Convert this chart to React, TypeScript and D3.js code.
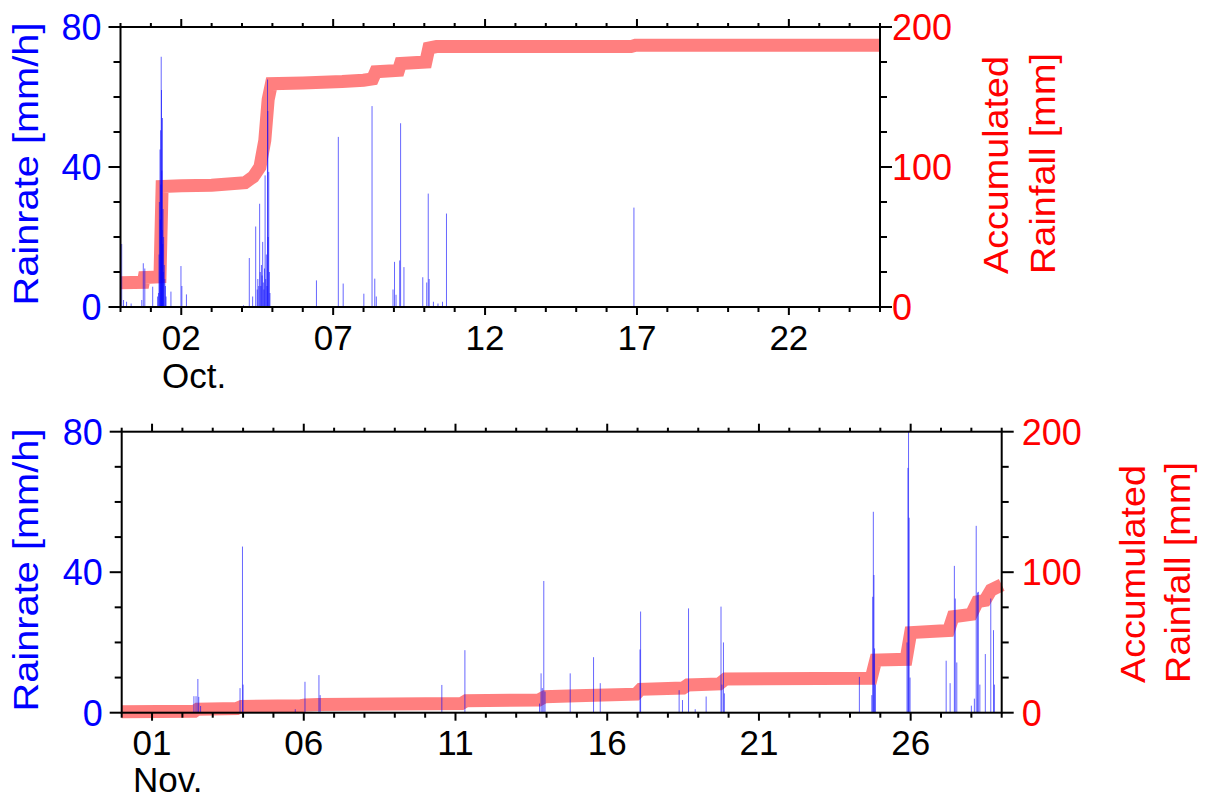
import React from 'react';
import * as d3 from 'd3';

// ---------- October panel data ----------
const octRainDay = [0.04, 0.1, 0.2, 0.35, 0.7, 0.75, 0.8, 1.06, 1.22, 1.25, 1.27, 1.28, 1.3, 1.31, 1.32, 1.33, 1.34, 1.35, 1.36, 1.37, 1.38, 1.39, 1.4, 1.41, 1.42, 1.44, 1.46, 1.48, 1.5, 1.66, 1.99, 2.02, 2.17, 4.05, 4.24, 4.35, 4.45, 4.5, 4.52, 4.55, 4.58, 4.6, 4.62, 4.64, 4.66, 4.68, 4.7, 4.72, 4.74, 4.76, 4.78, 4.8, 4.82, 4.84, 4.85, 4.86, 4.88, 4.9, 4.92, 6.45, 7.17, 7.33, 8.01, 8.28, 8.37, 8.42, 8.97, 9.02, 9.07, 9.19, 9.22, 9.33, 9.95, 10.08, 10.13, 10.16, 10.3, 10.45, 10.6, 10.73, 16.9];
const octRainRate = [18, 2, 1.5, 1, 2, 12.5, 11, 5.8, 3, 4, 15, 30, 45, 25, 50.5, 35, 71.5, 62, 39, 22, 54, 18, 28, 10, 20, 12, 8, 6, 3, 4.4, 11.7, 6, 3.6, 0.5, 14, 3, 23, 5, 8, 6, 29.5, 10, 6, 12, 9, 18.6, 7, 5, 11, 37.6, 8, 15, 6, 65, 56, 20, 38.6, 10, 4, 7.6, 48.6, 6.7, 3.8, 57.4, 8.1, 3, 5, 12.9, 3.5, 13.3, 52.5, 11.4, 8.5, 7, 32.4, 8, 1.5, 1, 1.5, 26.7, 28.4];
const octAccDay = [0, 0.75, 0.78, 1.3, 1.33, 1.37, 2, 3, 4.1, 4.37, 4.59, 4.75, 4.86, 4.97, 6, 7.3, 8, 8.3, 8.4, 9.15, 9.22, 10.05, 10.15, 10.4, 16.8, 16.95, 25];
const octAccMm = [17.4, 17.6, 21, 21.5, 50, 86, 86.6, 87, 88.8, 93, 100, 119, 148, 159.5, 160, 161, 162, 163, 168, 169, 174, 175, 185, 186, 186, 187, 187];
const octTickDays = [2, 7, 12, 17, 22];
const octTickLabels = ['02', '07', '12', '17', '22'];

// ---------- November panel data ----------
const novRainDay = [2.38, 2.45, 2.51, 2.54, 2.6, 3.9, 3.98, 4.0, 5.72, 6.04, 6.5, 6.54, 10.55, 11.31, 13.77, 13.82, 13.86, 13.91, 13.95, 14.78, 15.55, 15.77, 17.08, 17.1, 18.37, 18.48, 18.68, 18.9, 19.26, 19.75, 19.78, 19.83, 19.86, 24.31, 24.72, 24.75, 24.77, 24.79, 24.81, 24.84, 25.88, 25.91, 25.93, 25.95, 25.98, 27.17, 27.3, 27.44, 27.47, 27.52, 28.0, 28.1, 28.16, 28.2, 28.23, 28.28, 28.46, 28.64, 28.73, 28.76];
const novRainRate = [4.7, 4.7, 9.6, 4.5, 1.9, 7, 47.3, 8, 1, 8.8, 10.7, 5, 7.9, 17.8, 2.6, 11.2, 7, 37.5, 6, 11.2, 15.8, 8.4, 18, 28.8, 6.4, 3.6, 29.7, 1, 4.6, 30.2, 8, 20, 5.5, 10.2, 5, 33, 57.2, 39.2, 18.3, 8, 20, 69.7, 80, 55.5, 10, 14.8, 8.4, 41.8, 32.5, 14.3, 2, 4, 53.2, 34.2, 34.4, 8, 16.7, 32.5, 23.5, 8];
const novAccDay = [0, 2.4, 2.5, 3.8, 3.95, 5.9, 6.05, 6.5, 11.2, 11.35, 13.75, 13.95, 15, 16.95, 17.1, 18.5, 18.65, 19.7, 19.9, 24.7, 24.85, 25.85, 26.0, 27.25, 27.4, 28.0, 28.2, 28.45, 28.65, 29];
const novAccMm = [0.7, 1.0, 2.5, 3, 4.5, 5, 5.5, 5.8, 6.5, 8.5, 9, 11.4, 12, 13.2, 16.6, 17.5, 19.7, 20.5, 24, 24.5, 37.5, 38, 57, 58.5, 68.3, 70, 79, 80, 87.3, 91];
const novTickDays = [1, 6, 11, 16, 21, 26];
const novTickLabels = ['01', '06', '11', '16', '21', '26'];

const rateTicks = [0, 40, 80];
const accTicks = [0, 100, 200];

const FONT = '"Liberation Sans", Arial, sans-serif';

type PanelCfg = {
  left: number; right: number; top: number; bottom: number; days: number;
  rainDay: number[]; rainRate: number[]; accDay: number[]; accMm: number[];
  tickDays: number[]; tickLabels: string[]; month: string; monthX: number;
  tickBase: number; monthBase: number; rightLabelGap: number;
  leftTitleY: number; accX1: number; accX2: number; accY: number;
};

function Panel({ c }: { c: PanelCfg }) {
  const x = d3.scaleLinear().domain([0, c.days]).range([c.left, c.right]);
  const yL = d3.scaleLinear().domain([0, 80]).range([c.bottom, c.top]);
  const yR = d3.scaleLinear().domain([0, 200]).range([c.bottom, c.top]);
  const accPts: [number, number][] = c.accDay.map((d, i) => [d, c.accMm[i]]);
  const line = d3.line<[number, number]>().x(d => x(d[0])).y(d => yR(d[1]));
  const dayTicks = d3.range(0, c.days + 1);
  const rateMinor = d3.range(0, 81, 10);
  const accMinor = d3.range(0, 201, 25);
  const ax = { stroke: '#000', strokeWidth: 2 };
  return (
    <g>
      <path d={line(accPts) || ''} fill="none" stroke="#ff7f7f" strokeWidth={13} />
      {c.rainDay.map((d, i) => (
        <line key={'r' + i} x1={x(d)} x2={x(d)} y1={yL(0)} y2={yL(Math.min(80, c.rainRate[i]))}
          stroke="#0000ff" strokeOpacity={0.6} strokeWidth={1} />
      ))}
      {/* frame */}
      <rect x={c.left} y={c.top} width={c.right - c.left} height={c.bottom - c.top} fill="none" {...ax} />
      {/* x ticks */}
      {dayTicks.map(d => {
        const major = c.tickDays.includes(d);
        return (
          <g key={'xt' + d}>
            <line x1={x(d)} x2={x(d)} y1={c.bottom} y2={c.bottom + (major ? 8 : 5)} {...ax} />
            <line x1={x(d)} x2={x(d)} y1={c.top} y2={c.top - (major ? 8 : 4)} {...ax} />
          </g>
        );
      })}
      {c.tickDays.map((d, i) => (
        <text key={'xl' + d} x={x(d)} y={c.tickBase} textAnchor="middle" fontSize={35} fontFamily={FONT} fill="#000">{c.tickLabels[i]}</text>
      ))}
      <text x={c.monthX} y={c.monthBase} fontSize={35} fontFamily={FONT} fill="#000">{c.month}</text>
      {/* left axis */}
      {rateMinor.map(v => (
        <line key={'lt' + v} x1={c.left} x2={c.left - (rateTicks.includes(v) ? 12 : 7)} y1={yL(v)} y2={yL(v)} {...ax} />
      ))}
      {rateTicks.map(v => (
        <text key={'ll' + v} x={c.left - 19} y={yL(v)} dy="0.36em" textAnchor="end" fontSize={36} fontFamily={FONT} fill="#0000ff">{v}</text>
      ))}
      <text transform={`translate(38,${c.leftTitleY}) rotate(-90)`} textAnchor="middle" fontSize={35} fontFamily={FONT}
        fill="#0000ff" textLength={283} lengthAdjust="spacingAndGlyphs">Rainrate [mm/h]</text>
      {/* right axis */}
      {accMinor.map(v => (
        <line key={'rt' + v} x1={c.right} x2={c.right + (accTicks.includes(v) ? 12 : 7)} y1={yR(v)} y2={yR(v)} {...ax} />
      ))}
      {accTicks.map(v => (
        <text key={'rl' + v} x={c.right + c.rightLabelGap} y={yR(v)} dy="0.36em" textAnchor="start" fontSize={36} fontFamily={FONT} fill="#ff0000">{v}</text>
      ))}
      <text transform={`translate(${c.accX1},${c.accY}) rotate(-90)`} fontSize={35} fontFamily={FONT}
        fill="#ff0000" textLength={218} lengthAdjust="spacingAndGlyphs">Accumulated</text>
      <text transform={`translate(${c.accX2},${c.accY}) rotate(-90)`} fontSize={35} fontFamily={FONT}
        fill="#ff0000" textLength={221} lengthAdjust="spacingAndGlyphs">Rainfall [mm]</text>
    </g>
  );
}

export default function App() {
  const oct: PanelCfg = {
    left: 120.5, right: 880, top: 27, bottom: 307, days: 25,
    rainDay: octRainDay, rainRate: octRainRate, accDay: octAccDay, accMm: octAccMm,
    tickDays: octTickDays, tickLabels: octTickLabels, month: 'Oct.', monthX: 162,
    tickBase: 350, monthBase: 388, rightLabelGap: 12,
    leftTitleY: 164, accX1: 1008, accX2: 1055, accY: 274,
  };
  const nov: PanelCfg = {
    left: 121.7, right: 1001.7, top: 431.7, bottom: 712.7, days: 29,
    rainDay: novRainDay, rainRate: novRainRate, accDay: novAccDay, accMm: novAccMm,
    tickDays: novTickDays, tickLabels: novTickLabels, month: 'Nov.', monthX: 133,
    tickBase: 755, monthBase: 792, rightLabelGap: 20,
    leftTitleY: 570, accX1: 1145, accX2: 1190, accY: 683,
  };
  return (
    <svg width={1205} height={798} style={{ position: 'absolute', left: 0, top: 0, background: '#fff' }}>
      <rect width={1205} height={798} fill="#fff" />
      <Panel c={oct} />
      <Panel c={nov} />
    </svg>
  );
}
